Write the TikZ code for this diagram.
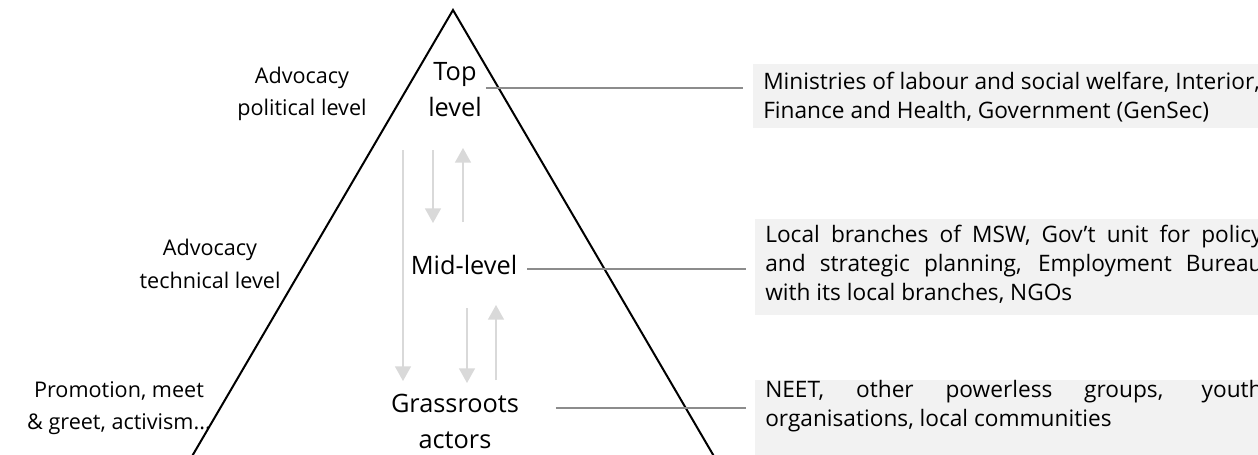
\documentclass[tikz,border=0pt]{standalone}
\usepackage{fontspec}
\setmainfont{Open Sans}
\usetikzlibrary{arrows.meta, positioning}
\definecolor{boxgray}{HTML}{F2F2F2}
\definecolor{flowgray}{HTML}{D9D9D9}
\definecolor{linkgray}{HTML}{8C8C8C}
\tikzset{
  levellabel/.style={align=center, font=\fontsize{19}{27}\selectfont, inner sep=1.5pt},
  sidelabel/.style={align=center, font=\fontsize{16.2}{24.5}\selectfont, inner sep=1pt},
  infobox/.style={fill=boxgray, anchor=north west, inner sep=0pt, minimum width=390pt},
  infotext/.style={align=left, anchor=base west, inner sep=0pt, font=\fontsize{17}{21.5}\selectfont},
  link/.style={draw=linkgray, line width=0.8pt},
  flow/.style={draw=flowgray, line width=1.1pt, -{Triangle[length=11pt, width=12pt]}},
}
\newcommand{\fullline}[1]{\makebox[373pt][s]{#1}}

\begin{document}
\begin{tikzpicture}[x=0.75pt, y=-0.75pt]
\useasboundingbox (0,0) rectangle (1258,454);
\clip (0,0) rectangle (1258,454);

% pyramid
\draw[line width=1.5pt] (184,470) -- (453,10) -- (722,470);

% levels
\node[levellabel] (toplevel) at (455,90) {Top\\level};
\node[levellabel] (midlevel) at (464,265) {Mid-level};
\node[levellabel] (grassroots) at (455,421) {Grassroots\\actors};

% flows between levels
\draw[flow] (403,150) -- (403,381);
\draw[flow] (433,150) -- (433,223);
\draw[flow] (463,222) -- (463,148);
\draw[flow] (467,308) -- (467,383);
\draw[flow] (496,380) -- (496,305);

% side labels
\node[sidelabel] (political) at (302,94) {Advocacy\\political level};
\node[sidelabel] (technical) at (210,264) {Advocacy\\technical level};
\node[sidelabel] (promotion) at (119,408) {Promotion, meet\\\& greet, activism...};

% actors
\node[infobox, minimum height=48pt] (topbox) at (753,64) {};
\node[infobox, minimum height=72pt] (midbox) at (755,219) {};
\node[infobox, minimum height=60pt] (grassbox) at (755,380) {};

\node[infotext] (toptext) at (763,118)
  {Ministries of labour and social welfare, Interior,\\Finance and Health, Government (GenSec)};
\node[infotext] (midtext) at (765,300)
  {\fullline{Local branches of MSW, Gov’t unit for policy}\\
   \fullline{and strategic planning, Employment Bureau}\\
   with its local branches, NGOs};
\node[infotext] (grasstext) at (765,426)
  {\fullline{NEET, other powerless groups, youth}\\
   organisations, local communities};

% connectors
\coordinate (topout) at ([xshift=1.5pt, yshift=1.5pt]toplevel.east);
\coordinate (midout) at ([xshift=6pt, yshift=-3pt]midlevel.east);
\coordinate (grassout) at ([xshift=26pt, yshift=9.75pt]grassroots.east);
\draw[link, shorten >=7.5pt] (topout) -- (topout -| topbox.west);
\draw[link, shorten >=7pt] (midout) -- (midout -| midbox.west);
\draw[link, shorten >=7pt] (grassout) -- (grassout -| grassbox.west);
\end{tikzpicture}
\end{document}
